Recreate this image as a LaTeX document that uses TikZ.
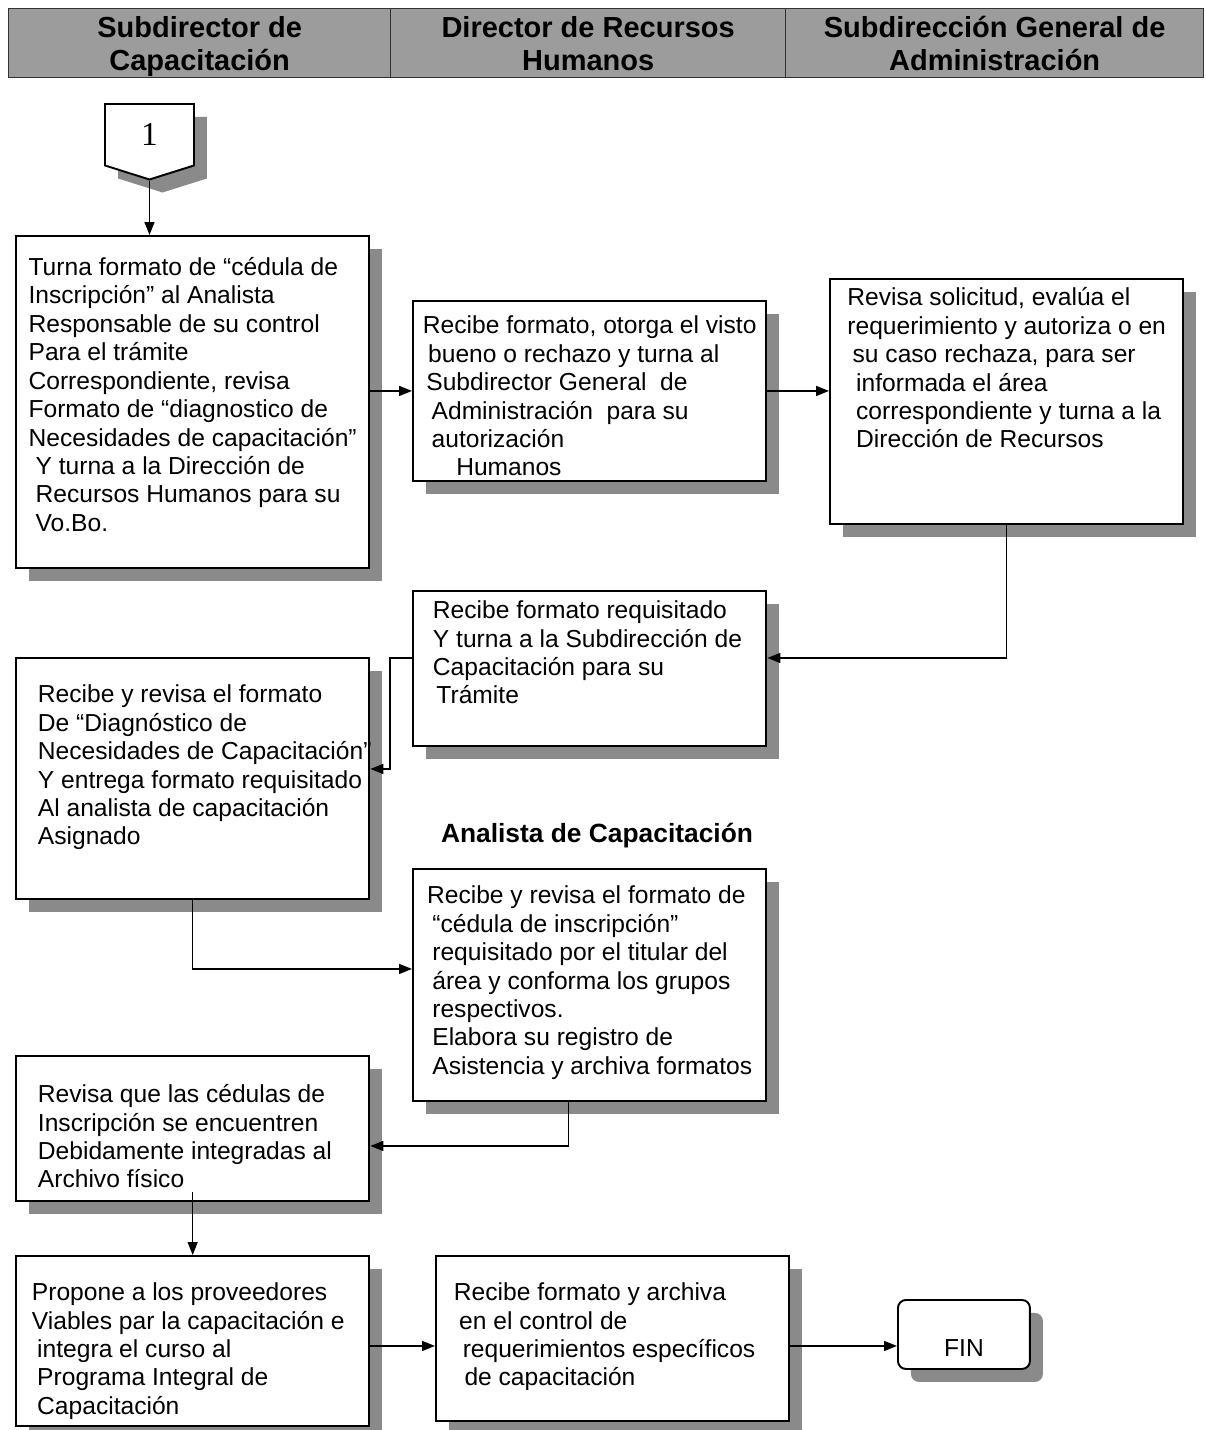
\documentclass[tikz,border=0pt]{standalone}
\usepackage{fontspec}
\setmainfont{Liberation Sans}
\newfontfamily\serifa{Liberation Serif}
\usetikzlibrary{arrows.meta,shapes.symbols,shadows}
\definecolor{encabezado}{HTML}{9C9C9C}
\definecolor{gris}{HTML}{8A8A8A}
\newcommand{\linea}[2]{\makebox[#1][l]{#2}}
\tikzset{sombreado/.style={drop shadow={shadow xshift=0.26cm,shadow yshift=-0.26cm,fill=gris,opacity=1}},paso/.style={draw=black,line width=1.1pt,fill=white,anchor=north west,align=left,minimum width=7.07cm,inner xsep=0pt,inner ysep=0pt,font=\fontsize{14}{16.2}\selectfont,sombreado},carril/.style={draw=black!80,line width=0.8pt,fill=encabezado,anchor=north west,align=center,inner ysep=0pt,text height=1.24cm,text depth=0.14cm,font=\bfseries\fontsize{16.5}{18.8}\selectfont},flecha/.style={-{Triangle[length=0.26cm,width=0.2cm]},line width=0.85pt}}

\begin{document}
\begin{tikzpicture}[x=0.02cm,y=-0.02cm]
\useasboundingbox (0,0) rectangle (1206,1430);
% encabezado de carriles
\node[carril,minimum width=7.64cm] (c1) at (8,8) {Subdirector de\\Capacitación};
\node[carril,minimum width=7.9cm] (c2) at (390,8) {Director de Recursos\\Humanos};
\node[carril,minimum width=8.36cm] (c3) at (785,8) {Subdirección General de\\Administración};
\node[draw,line width=1.1pt,fill=white,shape=signal,signal to=south,signal from=nowhere,signal pointer angle=145,minimum width=1.78cm,minimum height=1.32cm,anchor=north,font=\serifa\fontsize{19}{20}\selectfont,sombreado] (conector) at (149.5,103) {1};
% pasos
\node[paso,text height=5.91cm,text depth=0.73cm] (b1) at (15,235) {Turna formato de “cédula de\\Inscripción” al Analista\\Responsable de su control\\Para el trámite\\Correspondiente, revisa\\Formato de “diagnostico de\\Necesidades de capacitación”\\\hspace*{4pt}Y turna a la Dirección de\\\hspace*{4pt}Recursos Humanos para su\\\hspace*{4pt}Vo.Bo.};
\node[paso,text height=3.5cm,text depth=0.1cm] (b2) at (412,300) {Recibe formato, otorga el visto\\\hspace*{3pt}bueno o rechazo y turna al\\\hspace*{2pt}Subdirector General\ \ de\\\hspace*{5pt}Administración\ \ para su\\\hspace*{5pt}autorización\\\hspace*{19pt}Humanos};
\node[paso,text height=3.38cm,text depth=1.52cm] (b3) at (829,278) {Revisa solicitud, evalúa el\\requerimiento y autoriza o en\\\hspace*{3pt}su caso rechaza, para ser\\\hspace*{5pt}informada el área\\\hspace*{5pt}correspondiente y turna a la\\\hspace*{5pt}Dirección de Recursos};
\node[paso,text height=2.26cm,text depth=0.84cm] (b4) at (412,590) {\linea{6.27cm}{Recibe formato requisitado}\\Y turna a la Subdirección de\\Capacitación para su\\\hspace*{2pt}Trámite};
\node[paso,text height=3.74cm,text depth=1.08cm] (b5) at (15,657) {Recibe y revisa el formato\\De “Diagnóstico de\\\linea{6.19cm}{Necesidades de Capacitación”}\\\linea{6.19cm}{Y entrega formato requisitado}\\Al analista de capacitación\\Asignado};
\node[font=\bfseries\fontsize{15}{18}\selectfont] (analista) at (597,836) {Analista de Capacitación};
\node[paso,text height=4.11cm,text depth=0.53cm] (b6) at (412,868) {Recibe y revisa el formato de\\\hspace*{3pt}“cédula de inscripción”\\\hspace*{3pt}requisitado por el titular del\\\hspace*{3pt}área y conforma los grupos\\\hspace*{3pt}respectivos.\\\hspace*{3pt}Elabora su registro de\\\hspace*{3pt}Asistencia y archiva formatos};
\node[paso,text height=2.64cm,text depth=0.26cm] (b7) at (15,1055) {\linea{6.19cm}{Revisa que las cédulas de}\\Inscripción se encuentren\\Debidamente integradas al\\Archivo físico};
\node[paso,text height=3.17cm,text depth=0.23cm] (b8) at (15,1255) {\linea{6.43cm}{Propone a los proveedores}\\Viables par la capacitación e\\\hspace*{3pt}integra el curso al\\\hspace*{3pt}Programa Integral de\\\hspace*{3pt}Capacitación};
\node[paso,text height=2.6cm,text depth=0.7cm] (b9) at (435,1255) {\linea{6.35cm}{Recibe formato y archiva}\\\hspace*{3pt}en el control de\\\hspace*{5pt}requerimientos específicos\\\hspace*{6pt}de capacitación};
\node[draw,line width=1.1pt,fill=white,rounded corners=0.16cm,anchor=north west,minimum width=2.64cm,inner sep=0pt,text height=1.14cm,text depth=0.24cm,font=\fontsize{14}{16.2}\selectfont,sombreado] (fin) at (897,1299) {FIN};
% conexiones
\draw[flecha] (conector.south) -- (conector.south |- b1.north);
\draw[flecha] (b2.west -| b1.east) -- (b2.west);
\draw[flecha] (b2.east) -- (b2.east -| b3.west);
\draw[flecha] (b3.south) |- ([yshift=0.21cm]b4.east);
\draw[flecha] ([yshift=0.21cm]b4.west) -- ++(-0.44cm,0) |- ([yshift=0.19cm]b5.east);
\draw[flecha] (b5.south) |- ([yshift=0.32cm]b6.west);
\draw[flecha] ([xshift=-0.42cm]b6.south) |- ([yshift=-0.35cm]b7.east);
\draw[flecha] ([yshift=0.2cm]b7.south) -- (b8.north);
\draw[flecha] ([yshift=-0.1cm]b8.east) -- ([yshift=-0.1cm]b8.east -| b9.west);
\draw[flecha] ([yshift=-0.15cm]b9.east) -- ([yshift=-0.15cm]b9.east -| fin.west);
\end{tikzpicture}
\end{document}
